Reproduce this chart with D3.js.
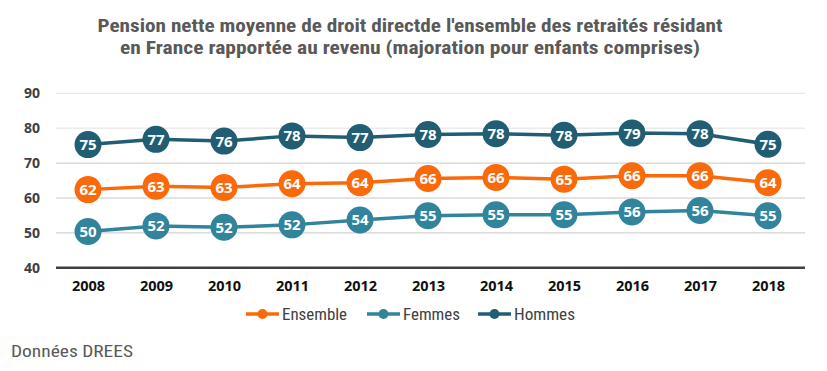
<!DOCTYPE html>
<html>
<head>
<meta charset="utf-8">
<script src="https://cdn.jsdelivr.net/npm/d3@7"></script>
<style>
  body { margin: 0; background: #fff; }
</style>
</head>
<body>
<div id="chart"></div>
<script>
// Data
const years = ["2008", "2009", "2010", "2011", "2012", "2013", "2014", "2015", "2016", "2017", "2018"];
const ensemble = [62.4, 63.4, 63.0, 64.1, 64.4, 65.6, 65.9, 65.4, 66.4, 66.4, 64.4];
const femmes = [50.4, 52.0, 51.6, 52.3, 53.7, 54.9, 55.2, 55.2, 56.0, 56.4, 54.9];
const hommes = [75.3, 76.8, 76.3, 77.8, 77.3, 78.2, 78.4, 78.0, 78.6, 78.4, 75.4];
const yTicks = [40, 50, 60, 70, 80, 90];
const titleLines = [
  "Pension nette moyenne de droit directde l'ensemble des retraités résidant",
  "en France rapportée au revenu (majoration pour enfants comprises)"
];

const series = [
  { name: "Ensemble", values: ensemble, color: "#fa6a0a" },
  { name: "Femmes", values: femmes, color: "#31849b" },
  { name: "Hommes", values: hommes, color: "#215e73" }
];

const W = 827, H = 371;
const narrow = "'Liberation Sans Narrow', 'Roboto Condensed', 'Arial Narrow', Roboto, sans-serif";

const svg = d3.select("#chart").append("svg")
  .attr("width", W)
  .attr("height", H);

// Title
svg.append("g").selectAll("text")
  .data(titleLines)
  .join("text")
  .attr("x", 410)
  .attr("y", (d, i) => 32 + i * 22)
  .attr("text-anchor", "middle")
  .attr("textLength", (d, i) => i == 0 ? 625 : 580)
  .attr("lengthAdjust", "spacingAndGlyphs")
  .style("font-family", narrow)
  .style("font-size", "18px")
  .style("font-weight", "bold")
  .style("fill", "#595959")
  .text(d => d);

// Scales
const x = d3.scalePoint()
  .domain(years)
  .range([54, 802])
  .padding(0.5);

const y = d3.scaleLinear()
  .domain([40, 90])
  .range([267.8, 93.3]);

// Gridlines
svg.append("g").selectAll("line")
  .data(yTicks.filter(t => t > 40))
  .join("line")
  .attr("x1", 56).attr("x2", 805)
  .attr("y1", d => y(d)).attr("y2", d => y(d))
  .style("stroke", (d) => d >= 80 ? "#e3e3e3" : "#c8c8c8")
  .style("stroke-width", 1);

// baseline
svg.append("line")
  .attr("x1", 56).attr("x2", 805)
  .attr("y1", y(40)).attr("y2", y(40))
  .style("stroke", "#404040")
  .style("stroke-width", 2.5);

// Y axis labels
const yAxis = svg.append("g")
  .attr("transform", "translate(40,0)")
  .call(d3.axisLeft(y).tickValues(yTicks).tickSize(0).tickPadding(0));
yAxis.select(".domain").remove();
yAxis.selectAll("text")
  .style("font-family", "'Open Sans', 'Liberation Sans', sans-serif")
  .style("font-size", "14px")
  .style("font-weight", "bold")
  .style("fill", "#404040");

// X axis labels
const xAxis = svg.append("g")
  .attr("transform", "translate(0,281)")
  .call(d3.axisBottom(x).tickSize(0).tickPadding(0));
xAxis.select(".domain").remove();
xAxis.selectAll("text")
  .style("font-family", "'Open Sans', 'Liberation Sans', sans-serif")
  .style("font-size", "14.5px")
  .style("font-weight", "bold")
  .style("fill", "#111");

// Lines and markers
const line = d3.line()
  .x((d, i) => x(years[i]))
  .y(d => y(d));

series.forEach(s => {
  const g = svg.append("g");
  g.append("path")
    .datum(s.values)
    .attr("d", line)
    .style("fill", "none")
    .style("stroke", s.color)
    .style("stroke-width", 3.5);
  g.selectAll("circle")
    .data(s.values)
    .join("circle")
    .attr("cx", (d, i) => x(years[i]))
    .attr("cy", d => y(d))
    .attr("r", 13.5)
    .style("fill", s.color);
  g.selectAll("text")
    .data(s.values)
    .join("text")
    .attr("x", (d, i) => x(years[i]))
    .attr("y", d => y(d) + 5.5)
    .attr("text-anchor", "middle")
    .style("font-family", "'Open Sans', 'Liberation Sans', sans-serif")
    .style("font-size", "15px")
    .style("font-weight", "bold")
    .style("fill", "#fff")
    .text(d => Math.round(d));
});

// Legend
const legendX = [246, 367, 478];
const legendW = [65, 57, 61];
const legend = svg.append("g").selectAll("g")
  .data(series)
  .join("g")
  .attr("transform", (d, i) => "translate(" + legendX[i] + ",314)");
legend.append("line")
  .attr("x1", 0).attr("x2", 33)
  .style("stroke", d => d.color)
  .style("stroke-width", 3.5);
legend.append("circle")
  .attr("cx", 16.5).attr("r", 5)
  .style("fill", d => d.color);
legend.append("text")
  .attr("x", 36)
  .attr("y", 5.5)
  .attr("textLength", (d, i) => legendW[i])
  .attr("lengthAdjust", "spacingAndGlyphs")
  .style("font-family", narrow)
  .style("font-size", "16px")
  .style("fill", "#404040")
  .text(d => d.name);

// Source
svg.append("text")
  .attr("x", 11)
  .attr("y", 357)
  .attr("textLength", 122)
  .attr("lengthAdjust", "spacingAndGlyphs")
  .style("font-family", narrow)
  .style("font-size", "16px")
  .style("fill", "#595959")
  .text("Données  DREES");
</script>
</body>
</html>
